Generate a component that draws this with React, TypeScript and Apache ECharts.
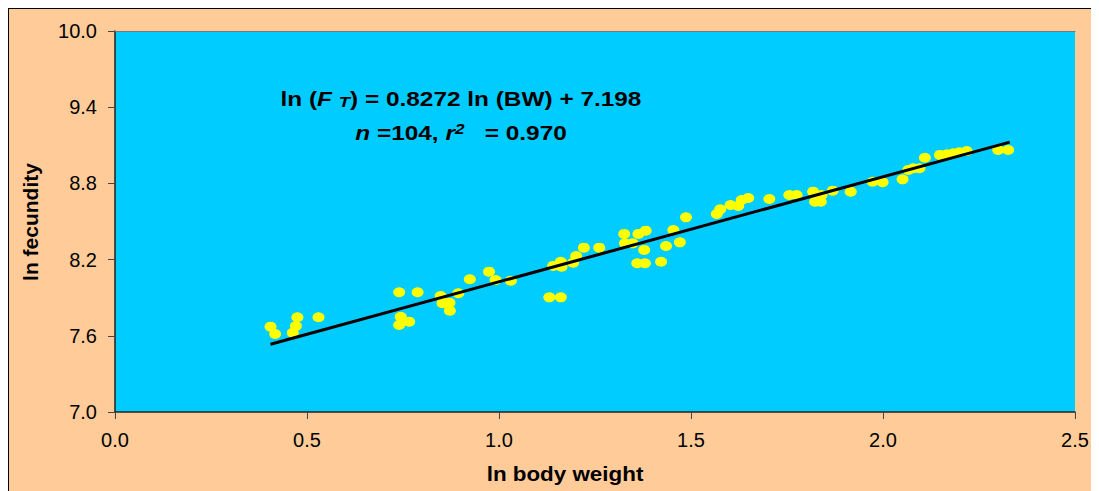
import React, { useEffect, useRef } from "react";
import * as echarts from "echarts";

const xTicks = [0, 0.5, 1.0, 1.5, 2.0, 2.5];
const yTicks = [7.0, 7.6, 8.2, 8.8, 9.4, 10.0];

const lnBodyWeight = [
  0.405, 0.417, 0.463, 0.471, 0.475, 0.53, 0.74, 0.788, 0.744, 0.74, 0.766,
  0.848, 0.853, 0.871, 0.872, 0.894, 0.924, 0.974, 0.991, 1.031, 1.131, 1.161,
  1.141, 1.161, 1.163, 1.193, 1.201, 1.221, 1.261, 1.326, 1.328, 1.348, 1.363,
  1.382, 1.378, 1.36, 1.38, 1.422, 1.435, 1.454, 1.471, 1.487, 1.567, 1.576,
  1.603, 1.623, 1.632, 1.649, 1.704, 1.756, 1.775, 1.818, 1.823, 1.838, 1.84,
  1.869, 1.916, 1.973, 1.999, 2.051, 2.066, 2.079, 2.095, 2.109, 2.148, 2.166,
  2.183, 2.199, 2.218, 2.3, 2.326,
];
const lnFecundity = [
  7.672, 7.614, 7.624, 7.677, 7.746, 7.746, 7.943, 7.943, 7.75, 7.685, 7.711,
  7.913, 7.856, 7.861, 7.798, 7.935, 8.045, 8.105, 8.039, 8.034, 7.903, 7.903,
  8.15, 8.183, 8.144, 8.176, 8.228, 8.294, 8.294, 8.402, 8.328, 8.328, 8.402,
  8.428, 8.276, 8.171, 8.171, 8.183, 8.307, 8.433, 8.336, 8.533, 8.559, 8.596,
  8.63, 8.622, 8.669, 8.685, 8.677, 8.709, 8.709, 8.735, 8.656, 8.656, 8.709,
  8.743, 8.735, 8.813, 8.809, 8.832, 8.906, 8.919, 8.919, 9.002, 9.024, 9.029,
  9.037, 9.045, 9.055, 9.063, 9.063,
];
const slope = 0.8272;
const intercept = 7.198;
const fitRange = [0.405, 2.33];

const xAxisTitle = "ln body weight";
const yAxisTitle = "ln fecundity";

const FONT = "'Liberation Sans', Arial, sans-serif";

export default function App() {
  const ref = useRef<HTMLDivElement>(null);
  useEffect(() => {
    if (!ref.current) return;
    const chart = echarts.init(ref.current, undefined, { renderer: "svg" });
    const points = lnBodyWeight.map((x, i) => [x, lnFecundity[i]]);
    const fit = fitRange.map((x) => [x, slope * x + intercept]);
    const gridLeft = 106;
    const gridTop = 22;
    const gridW = 960;
    const gridH = 381;
    chart.setOption({
      animation: false,
      backgroundColor: "#FFCC99",
      textStyle: { fontFamily: FONT },
      grid: {
        left: gridLeft,
        top: gridTop,
        width: gridW,
        height: gridH,
        show: true,
        backgroundColor: "#00CCFF",
        borderWidth: 0,
      },
      xAxis: [
        {
          type: "value",
          min: xTicks[0],
          max: xTicks[xTicks.length - 1],
          interval: 0.5,
          axisLine: { show: true, lineStyle: { color: "#222", width: 1.5 } },
          axisTick: { show: true, inside: false, length: 7, lineStyle: { color: "#444" } },
          axisLabel: {
            margin: 18,
            fontFamily: FONT,
            fontSize: 20,
            color: "#000",
            formatter: (v: number) => v.toFixed(1),
          },
          splitLine: { show: false },
        },
        {
          type: "value",
          position: "top",
          min: xTicks[0],
          max: xTicks[xTicks.length - 1],
          axisLine: { show: true, lineStyle: { color: "#777", width: 1 } },
          axisTick: { show: false },
          axisLabel: { show: false },
          splitLine: { show: false },
        },
      ],
      yAxis: {
        type: "value",
        min: yTicks[0],
        max: yTicks[yTicks.length - 1],
        interval: 0.6,
        axisLine: { show: true, lineStyle: { color: "#222", width: 1.5 } },
        axisTick: { show: true, inside: false, length: 7, lineStyle: { color: "#444" } },
        axisLabel: {
          margin: 18,
          fontFamily: FONT,
          fontSize: 20,
          color: "#000",
          formatter: (v: number) => v.toFixed(1),
        },
        splitLine: { show: false },
      },
      series: [
        {
          type: "scatter",
          data: points,
          symbol: "circle",
          symbolSize: [12, 10],
          itemStyle: { color: "#FFFF00", opacity: 1 },
          z: 2,
        },
        {
          type: "line",
          data: fit,
          symbol: "none",
          lineStyle: { color: "#000", width: 3 },
          z: 3,
        },
      ],
      graphic: [
        {
          type: "text",
          x: 452,
          y: 90,
          scaleX: 1.22,
          style: {
            text: "ln (" + "{fi|F} {sub|T}" + ") = 0.8272 ln (BW) + 7.198",
            fontFamily: FONT,
            fontSize: 20,
            fontWeight: "bold",
            fill: "#000",
            align: "center",
            verticalAlign: "middle",
            rich: {
              fi: { fontFamily: FONT, fontSize: 20, fontWeight: "bold", fontStyle: "italic", fill: "#000" },
              sub: {
                fontFamily: FONT,
                fontSize: 15,
                fontWeight: "bold",
                fontStyle: "italic",
                fill: "#000",
                verticalAlign: "bottom",
                padding: [6, 0, 0, 0],
              },
            },
          },
        },
        {
          type: "text",
          x: 452,
          y: 124,
          scaleX: 1.22,
          style: {
            text: "{it|n} =104, {it|r}{sup|2}   = 0.970",
            fontFamily: FONT,
            fontSize: 20,
            fontWeight: "bold",
            fill: "#000",
            align: "center",
            verticalAlign: "middle",
            rich: {
              it: { fontFamily: FONT, fontSize: 20, fontWeight: "bold", fontStyle: "italic", fill: "#000" },
              sup: {
                fontFamily: FONT,
                fontSize: 14,
                fontWeight: "bold",
                fontStyle: "italic",
                fill: "#000",
                verticalAlign: "top",
                padding: [0, 0, 8, 0],
              },
            },
          },
        },
        {
          type: "text",
          x: 556,
          y: 465,
          scaleX: 1.12,
          style: {
            text: xAxisTitle,
            fontFamily: FONT,
            fontSize: 20,
            fontWeight: "bold",
            fill: "#000",
            align: "center",
            verticalAlign: "middle",
          },
        },
        {
          type: "text",
          x: 21,
          y: 213,
          rotation: Math.PI / 2,
          style: {
            text: yAxisTitle,
            fontFamily: FONT,
            fontSize: 21,
            fontWeight: "bold",
            fill: "#000",
            align: "center",
            verticalAlign: "middle",
          },
        },
      ],
    });
    return () => chart.dispose();
  }, []);
  return (
    <div style={{ width: 1091, height: 483, overflow: "hidden" }}>
      <div style={{ borderLeft: "1px solid #000", borderTop: "1px solid #000", width: 1100, height: 490 }}>
        <div ref={ref} style={{ width: 1100, height: 490 }} />
      </div>
    </div>
  );
}
